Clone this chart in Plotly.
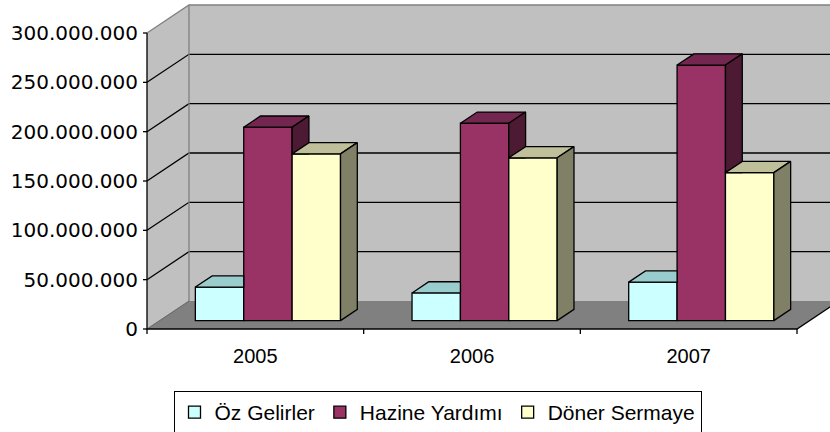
import plotly.graph_objects as go

# ---------------- data ----------------
years = ["2005", "2006", "2007"]
series_names = ["Öz Gelirler", "Hazine Yardımı", "Döner Sermaye"]
oz_gelirler = [34e6, 28e6, 39e6]
hazine_yardimi = [196e6, 200e6, 259e6]
doner_sermaye = [169e6, 165e6, 150e6]
y_tick_values = [0, 50e6, 100e6, 150e6, 200e6, 250e6, 300e6]

# ---------------- style ----------------
front_colors = ["#CCFFFF", "#993366", "#FFFFCC"]
top_colors = ["#99CCCC", "#732650", "#BFBF99"]
side_colors = ["#668080", "#4D1A33", "#808066"]
WALL = "#C0C0C0"
FLOOR = "#808080"

# oblique projection parameters (axis units)
PX_X = 216.67          # px per category
PX_Y = 0.98667e-6      # px per unit value
DX = 42 / PX_X         # depth offset (x)
DY = 28 / PX_Y         # depth offset (y)
D0 = 0.3               # depth of bar front faces
BD = 0.4               # bar depth
BW = 0.2233            # bar width
YMAX = 300e6
NCAT = len(years)
TICK_X = 4 / PX_X      # y-axis tick length
TICK_Y = 5 / PX_Y      # x-axis tick length

W, H = 830, 432
L_PX, R_PX, T_PX, B_PX = 139, 830, 3, 337
X0_PX, Y0_PX = 147, 329
x_range = [(L_PX - X0_PX) / PX_X, (R_PX - X0_PX) / PX_X]
y_range = [-(B_PX - Y0_PX) / PX_Y, (Y0_PX - T_PX) / PX_Y]

series = [oz_gelirler, hazine_yardimi, doner_sermaye]

fig = go.Figure()

# front faces as real bars
base = D0 * DY
for i, (name, vals) in enumerate(zip(series_names, series)):
    xs = [c + 0.5 + D0 * DX + (i - 1) * BW for c in range(NCAT)]
    fig.add_trace(go.Bar(
        x=xs, y=vals, base=base, width=BW, name=name,
        marker=dict(color=front_colors[i], line=dict(color="black", width=1.3)),
        hoverinfo="skip",
    ))


def clip(poly, f):
    out = []
    n = len(poly)
    for k in range(n):
        a, b = poly[k], poly[(k + 1) % n]
        fa, fb = f(a), f(b)
        if fa >= 0:
            out.append(a)
        if (fa >= 0) != (fb >= 0):
            t = fa / (fa - fb)
            out.append((a[0] + t * (b[0] - a[0]), a[1] + t * (b[1] - a[1])))
    return out


def area_px(poly):
    if len(poly) < 3:
        return 0
    s = 0
    for k in range(len(poly)):
        x1, y1 = poly[k]
        x2, y2 = poly[(k + 1) % len(poly)]
        s += (x1 * PX_X) * (y2 * PX_Y) - (x2 * PX_X) * (y1 * PX_Y)
    return abs(s) / 2


def add_face(poly, color):
    xs = [p[0] for p in poly] + [poly[0][0]]
    ys = [p[1] for p in poly] + [poly[0][1]]
    fig.add_trace(go.Scatter(
        x=xs, y=ys, mode="lines", fill="toself", fillcolor=color,
        line=dict(color="black", width=1.3), showlegend=False,
        hoverinfo="skip",
    ))


ddx, ddy = BD * DX, BD * DY
for c in range(NCAT):
    for i in range(len(series)):
        v = series[i][c]
        x1 = c + 0.5 + D0 * DX + (i - 1.5) * BW
        x2 = x1 + BW
        top = base + v
        top_face = [(x1, top), (x2, top), (x2 + ddx, top + ddy), (x1 + ddx, top + ddy)]
        side_face = [(x2, base), (x2 + ddx, base + ddy), (x2 + ddx, top + ddy), (x2, top)]
        for poly, col in ((top_face, top_colors[i]), (side_face, side_colors[i])):
            if i + 1 < len(series):
                nxt = base + series[i + 1][c]
                if min(p[1] for p in poly) >= nxt:
                    pieces = [poly]
                else:
                    p1 = clip(poly, lambda p, x2=x2: x2 - p[0])
                    p2 = clip(clip(poly, lambda p, x2=x2: p[0] - x2),
                              lambda p, nxt=nxt: p[1] - nxt)
                    pieces = [p1, p2]
            else:
                pieces = [poly]
            for pc in pieces:
                if area_px(pc) > 1:
                    add_face(pc, col)

# ---------------- walls, floor, gridlines, axis (decor) ----------------
def path(pts, close=True):
    s = "M " + " L ".join(f"{x},{y}" for x, y in pts)
    return s + (" Z" if close else "")


def line_shape(pts, color, width):
    return dict(type="path", xref="x", yref="y", layer="below",
                path=path(pts, close=False), line=dict(color=color, width=width))


shapes = []
shapes.append(dict(type="path", xref="x", yref="y", layer="below",
                   path=path([(DX, DY), (NCAT + DX, DY), (NCAT + DX, YMAX + DY), (DX, YMAX + DY)]),
                   fillcolor=WALL, line=dict(width=0)))
shapes.append(dict(type="path", xref="x", yref="y", layer="below",
                   path=path([(0, 0), (DX, DY), (DX, YMAX + DY), (0, YMAX)]),
                   fillcolor=WALL, line=dict(width=0)))
shapes.append(dict(type="path", xref="x", yref="y", layer="below",
                   path=path([(0, 0), (NCAT, 0), (NCAT + DX, DY), (DX, DY)]),
                   fillcolor=FLOOR, line=dict(width=0)))
for v in y_tick_values[1:-1]:
    shapes.append(line_shape([(0, v), (DX, v + DY), (NCAT + DX, v + DY)], "black", 1.3))
shapes.append(line_shape([(0, YMAX), (DX, YMAX + DY), (NCAT + DX, YMAX + DY)], "#808080", 1.3))
shapes.append(line_shape([(DX, DY), (DX, YMAX + DY)], "#808080", 1.3))
shapes.append(line_shape([(0, 0), (DX, DY)], "#606060", 1))
# axis lines
shapes.append(line_shape([(0, YMAX), (0, 0), (NCAT, 0), (NCAT + DX, DY)], "black", 1.3))
# tick marks
for v in y_tick_values:
    shapes.append(line_shape([(-TICK_X, v), (0, v)], "black", 1.3))
for c in range(NCAT + 1):
    shapes.append(line_shape([(c, 0), (c, -TICK_Y)], "black", 1.3))

fig.update_layout(
    width=W, height=H,
    margin=dict(l=L_PX, r=W - R_PX, t=T_PX, b=H - B_PX, pad=0, autoexpand=False),
    paper_bgcolor="white", plot_bgcolor="white",
    separators=",.",
    barmode="overlay",
    showlegend=True,
    shapes=shapes,
    legend=dict(
        orientation="h", xref="container", yref="container",
        x=437.5 / W, xanchor="center", y=1 - 391 / H, yanchor="top",
        font=dict(family="Liberation Sans", size=21, color="black"),
        bordercolor="black", borderwidth=1, bgcolor="white",
        traceorder="normal",
    ),
    xaxis=dict(
        range=x_range, showgrid=False, zeroline=False, showline=False, automargin=False,
        tickmode="array", tickvals=[c + 0.5 for c in range(NCAT)], ticktext=years,
        ticks="", ticklabelstandoff=5,
        tickfont=dict(family="Liberation Sans", size=20, color="black"),
        fixedrange=True,
    ),
    yaxis=dict(
        range=y_range, showgrid=False, zeroline=False, showline=False, automargin=False,
        tickmode="array", tickvals=y_tick_values, tickformat=",.0f",
        ticks="",
        tickfont=dict(family="DejaVu Sans", size=20, color="black"),
        ticklabelstandoff=0,
        fixedrange=True,
    ),
)

fig.write_html(
    "out.html",
    config={"displayModeBar": False, "staticPlot": True},
    post_script="document.body.style.margin='0px';document.body.style.padding='0px';",
)
